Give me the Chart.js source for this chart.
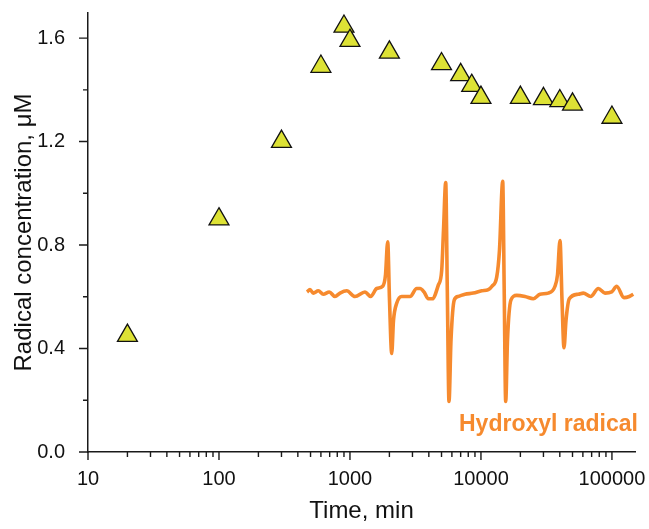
<!DOCTYPE html>
<html>
<head>
<meta charset="utf-8">
<script src="https://cdn.jsdelivr.net/npm/chart.js@4"></script>
<style>
  body { margin: 0; background: #fff; }
  canvas { display: block; }
</style>
</head>
<body>
<canvas id="chart" width="649" height="529"></canvas>
<script>
// 自由基浓度随时间变化（三角形点）
const timeMin = [20, 100, 300, 600, 900, 1000, 2000, 5000, 7000, 8500, 10000, 20000, 30000, 40000, 50000, 100000];
const radicalConc = [0.45, 0.90, 1.20, 1.49, 1.645, 1.59, 1.545, 1.50, 1.458, 1.416, 1.37, 1.37, 1.365, 1.357, 1.344, 1.293];

// 插图：羟基自由基 EPR 谱（磁场，强度 - 任意单位）
const eprField = [0.00, 0.30, 0.63, 1.13, 1.63, 2.23, 2.80, 3.30, 3.97, 4.80, 5.80, 6.37, 6.97, 7.57, 7.85, 8.07, 8.25, 8.47, 8.65, 8.97, 9.47, 10.30, 10.97, 11.30, 11.70, 12.13, 12.53, 13.13, 13.47, 13.65, 13.87, 14.03, 14.20, 14.40, 14.73, 15.10, 15.80, 16.63, 17.47, 18.13, 18.50, 18.97, 19.25, 19.57, 19.72, 19.87, 20.05, 20.40, 20.97, 21.80, 22.63, 23.30, 24.13, 24.80, 25.05, 25.30, 25.50, 25.70, 25.90, 26.23, 27.13, 27.63, 28.37, 29.13, 29.80, 30.47, 30.97, 31.70, 32.23, 32.63];
const eprSignal = [0.00, 0.02, -0.01, 0.01, -0.02, 0.00, -0.04, -0.01, 0.01, -0.04, 0.00, -0.04, 0.03, 0.05, 0.15, 0.44, -0.07, -0.54, -0.25, -0.10, -0.04, -0.04, 0.03, 0.03, 0.00, -0.06, -0.06, 0.06, 0.19, 0.54, 0.96, 0.02, -0.96, -0.42, -0.07, -0.04, -0.02, -0.01, 0.01, 0.02, 0.05, 0.13, 0.37, 0.97, 0.02, -0.96, -0.42, -0.07, -0.03, -0.04, -0.06, -0.02, -0.01, 0.05, 0.15, 0.45, -0.07, -0.49, -0.25, -0.06, -0.02, -0.01, -0.04, 0.03, -0.01, 0.00, 0.05, -0.05, -0.04, -0.02];

// 坐标轴刻度
const xMajorTicks = [10, 100, 1000, 10000, 100000];
const xMinorTicks = [20, 30, 40, 50, 60, 70, 80, 90, 200, 300, 400, 500, 600, 700, 800, 900,
    2000, 3000, 4000, 5000, 6000, 7000, 8000, 9000, 20000, 30000, 40000, 50000, 60000, 70000, 80000, 90000];
const yMajorTicks = [0, 0.4, 0.8, 1.2, 1.6];
const yMinorTicks = [0.2, 0.6, 1.0, 1.4];

const insetLabel = 'Hydroxyl radical';
const orange = '#f68a2e';
const axisColor = '#1a1a1a';

// 手动绘制刻度线和插图标签
const tickMarks = {
    id: 'tickMarks',
    afterDraw(chart) {
        const ctx = chart.ctx;
        const x = chart.scales.x, y = chart.scales.y;
        const area = chart.chartArea;
        ctx.save();
        ctx.strokeStyle = axisColor;
        ctx.lineWidth = 1.4;
        ctx.beginPath();
        xMajorTicks.forEach(v => { const px = x.getPixelForValue(v); ctx.moveTo(px, area.bottom); ctx.lineTo(px, area.bottom + 8); });
        xMinorTicks.forEach(v => { const px = x.getPixelForValue(v); ctx.moveTo(px, area.bottom); ctx.lineTo(px, area.bottom + 5); });
        yMajorTicks.forEach(v => { const py = y.getPixelForValue(v); ctx.moveTo(area.left, py); ctx.lineTo(area.left - 9, py); });
        yMinorTicks.forEach(v => { const py = y.getPixelForValue(v); ctx.moveTo(area.left, py); ctx.lineTo(area.left - 5, py); });
        ctx.stroke();

        // 插图标签
        const x2 = chart.scales.x2, y2 = chart.scales.y2;
        ctx.fillStyle = orange;
        ctx.font = 'bold 23px "Liberation Sans", Arial, sans-serif';
        ctx.textAlign = 'left';
        ctx.textBaseline = 'alphabetic';
        ctx.fillText(insetLabel, x2.getPixelForValue(15.2), y2.getPixelForValue(-1.22));
        ctx.restore();
    }
};

const fontFamily = '"Liberation Sans", Arial, sans-serif';

new Chart(document.getElementById('chart'), {
    type: 'scatter',
    data: {
        datasets: [{
            label: 'Radical concentration',
            data: timeMin.map((t, i) => ({ x: t, y: radicalConc[i] })),
            pointStyle: 'triangle',
            pointRadius: 11.5,
            pointHoverRadius: 11.5,
            backgroundColor: '#dde235',
            borderColor: '#111',
            borderWidth: 1.3,
            xAxisID: 'x',
            yAxisID: 'y'
        }, {
            type: 'line',
            label: insetLabel,
            data: eprField.map((f, i) => ({ x: f, y: eprSignal[i] })),
            borderColor: orange,
            borderWidth: 3.6,
            pointRadius: 0,
            fill: false,
            cubicInterpolationMode: 'monotone',
            xAxisID: 'x2',
            yAxisID: 'y2'
        }]
    },
    options: {
        responsive: false,
        animation: false,
        devicePixelRatio: 1,
        layout: { padding: { top: 13, right: 14, left: 0, bottom: 0 } },
        plugins: {
            legend: { display: false },
            tooltip: { enabled: false }
        },
        scales: {
            x: {
                type: 'logarithmic',
                min: 10,
                max: 150000,
                afterBuildTicks: s => { s.ticks = xMajorTicks.map(v => ({ value: v })); },
                afterFit: s => { s.height = 77; s.paddingLeft = 0; s.paddingRight = 0; },
                grid: { display: false },
                border: { display: true, color: axisColor, width: 1.5 },
                ticks: {
                    color: '#111',
                    font: { family: fontFamily, size: 20 },
                    padding: 7,
                    maxRotation: 0,
                    autoSkip: false,
                    callback: v => String(v)
                },
                title: {
                    display: true,
                    text: 'Time, min',
                    color: '#111',
                    font: { family: fontFamily, size: 24 },
                    padding: { top: 0, bottom: 3 }
                }
            },
            y: {
                type: 'linear',
                min: 0,
                max: 1.697,
                afterBuildTicks: s => { s.ticks = yMajorTicks.map(v => ({ value: v })); },
                afterFit: s => { s.width = 88; s.paddingTop = 0; s.paddingBottom = 0; },
                grid: { display: false },
                border: { display: true, color: axisColor, width: 1.5 },
                ticks: {
                    color: '#111',
                    font: { family: fontFamily, size: 20 },
                    padding: 15,
                    callback: v => Number(v).toFixed(1)
                },
                title: {
                    display: true,
                    text: 'Radical concentration, μM',
                    color: '#111',
                    font: { family: fontFamily, size: 24 },
                    padding: { top: 10, bottom: 0 }
                }
            },
            x2: { type: 'linear', display: false, min: -21.9, max: 32.8 },
            y2: { type: 'linear', display: false, min: -1.404, max: 2.447 }
        }
    },
    plugins: [tickMarks]
});
</script>
</body>
</html>
